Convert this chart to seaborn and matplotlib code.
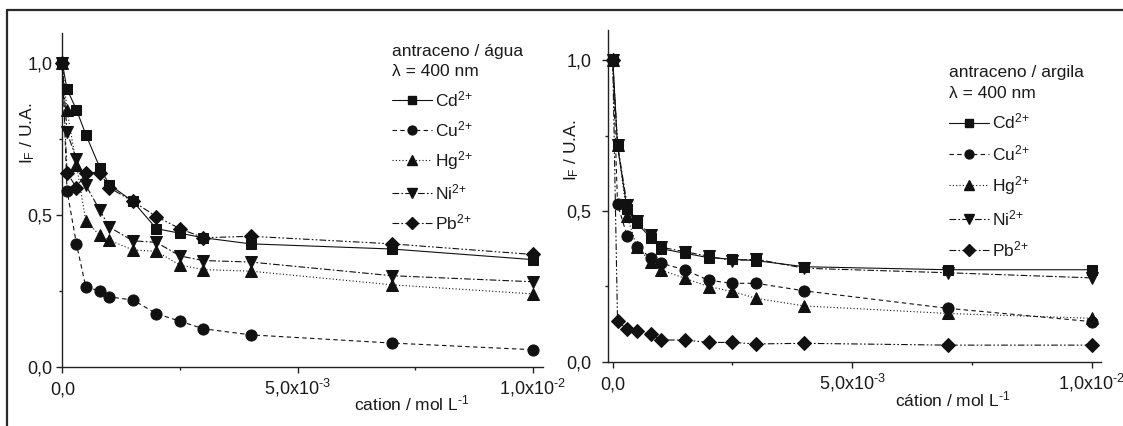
import matplotlib
matplotlib.use("Agg")
import matplotlib.pyplot as plt
from matplotlib.lines import Line2D
from matplotlib.ticker import FixedLocator
import seaborn as sns
import pandas as pd

# ---------------- data ----------------
conc = [0.0, 0.1e-3, 0.3e-3, 0.5e-3, 0.8e-3, 1.0e-3, 1.5e-3, 2.0e-3, 2.5e-3,
        3.0e-3, 4.0e-3, 7.0e-3, 10.0e-3]

cd_agua = [1.0, 0.915, 0.847, 0.765, 0.655, 0.60, 0.545, 0.455, 0.44, 0.425, 0.405, 0.388, 0.353]
cu_agua = [1.0, 0.58, 0.405, 0.262, 0.25, 0.23, 0.22, 0.175, 0.15, 0.125, 0.105, 0.078, 0.056]
hg_agua = [1.0, 0.845, 0.665, 0.48, 0.433, 0.417, 0.385, 0.38, 0.335, 0.32, 0.315, 0.27, 0.24]
ni_agua = [1.0, 0.773, 0.685, 0.598, 0.515, 0.46, 0.415, 0.41, 0.365, 0.35, 0.345, 0.30, 0.28]
pb_agua = [1.0, 0.64, 0.59, 0.64, 0.64, 0.59, 0.545, 0.495, 0.455, 0.425, 0.43, 0.405, 0.37]

cd_argila = [1.0, 0.715, 0.505, 0.46, 0.41, 0.375, 0.36, 0.345, 0.34, 0.335, 0.315, 0.305, 0.305]
cu_argila = [1.0, 0.523, 0.417, 0.38, 0.345, 0.327, 0.305, 0.27, 0.26, 0.26, 0.235, 0.177, 0.133]
hg_argila = [1.0, 0.72, 0.482, 0.382, 0.33, 0.305, 0.277, 0.249, 0.233, 0.21, 0.185, 0.16, 0.144]
ni_argila = [1.0, 0.72, 0.52, 0.465, 0.42, 0.38, 0.365, 0.35, 0.335, 0.34, 0.31, 0.295, 0.278]
pb_argila = [1.0, 0.135, 0.107, 0.102, 0.091, 0.072, 0.072, 0.064, 0.064, 0.059, 0.061, 0.055, 0.055]

series_labels = [r"Cd$^{\text{2+}}$", r"Cu$^{\text{2+}}$", r"Hg$^{\text{2+}}$", r"Ni$^{\text{2+}}$", r"Pb$^{\text{2+}}$"]
x_ticks = [0.0, 5.0e-3, 10.0e-3]
x_ticklabels = ["0,0", r"5,0x10$^{\text{-}3}$", r"1,0x10$^{\text{-}2}$"]
x_minor = [2.5e-3, 7.5e-3]
y_ticks = [0.0, 0.5, 1.0]
y_ticklabels = ["0,0", "0,5", "1,0"]
y_minor = [0.25, 0.75]
titles = ["antraceno / água", "antraceno / argila"]
xlabels = [r"cation / mol L$^{\text{-}1}$", r"cátion / mol L$^{\text{-}1}$"]
ylabel = r"I$_{F}$ / U.A."

# ---------------- style ----------------
sns.set_style("ticks")
plt.rcParams["font.family"] = ["Liberation Sans", "DejaVu Sans"]
plt.rcParams["mathtext.fontset"] = "custom"
plt.rcParams["mathtext.rm"] = "Liberation Sans"
plt.rcParams["mathtext.it"] = "Liberation Sans:italic"
plt.rcParams["mathtext.default"] = "regular"
plt.rcParams["text.color"] = "#1a1a1a"
plt.rcParams["axes.labelcolor"] = "#1a1a1a"

markers = ["s", "o", "^", "v", "D"]
msizes = [7, 8, 8.5, 8.5, 7.5]
styles = ["-", (0, (4, 3)), (0, (1, 2)), (0, (6, 2, 1.5, 2)), (0, (6, 2, 1.5, 2, 1.5, 2))]

fig = plt.figure(figsize=(11.23, 4.26), dpi=100)
ax1 = fig.add_axes([0.0555, 0.1392, 0.4278, 0.7833])
ax2 = fig.add_axes([0.5417, 0.1509, 0.4384, 0.7787])

panels = [
    (ax1, [cd_agua, cu_agua, hg_agua, ni_agua, pb_agua], (0.0, 1.021e-2), 0.70, (0.727, -0.11), 3.2, (0.686, 0.968), 0.0714, 0.58),
    (ax2, [cd_argila, cu_argila, hg_argila, ni_argila, pb_argila], (-0.092e-3, 1.0188e-2), 0.638, (0.70, -0.115), 8.0, (0.692, 0.893), 0.074, 0.64),
]

for i, (ax, data, xlim, ylab_y, xlab_pos, ypad, leg_pos, ylab_x, lspace) in enumerate(panels):
    handles = []
    for j, yv in enumerate(data):
        df = pd.DataFrame({"x": conc, "y": yv})
        sns.lineplot(data=df, x="x", y="y", ax=ax, color="#111111", marker=markers[j],
                     markersize=msizes[j], markeredgecolor="#111111", markerfacecolor="#111111",
                     linestyle=styles[j], linewidth=0.8, sort=False, estimator=None,
                     clip_on=False, zorder=3 + j)
        handles.append(Line2D([], [], color="#111111", marker=markers[j], markersize=msizes[j] * 0.8,
                              linestyle=styles[j], linewidth=0.8))
    ax.set_xlim(*xlim)
    ax.set_ylim(0, 1.1)
    sns.despine(ax=ax)
    for side in ["left", "bottom"]:
        ax.spines[side].set_linewidth(1.0)
        ax.spines[side].set_color("#222222")
    ax.set_xticks(x_ticks)
    ax.set_xticklabels(x_ticklabels)
    ax.set_yticks(y_ticks)
    ax.set_yticklabels(y_ticklabels)
    ax.xaxis.set_minor_locator(FixedLocator(x_minor))
    ax.yaxis.set_minor_locator(FixedLocator(y_minor))
    ax.tick_params(axis="both", which="major", direction="out", length=4, width=1.0,
                   labelsize=13, colors="#222222", labelcolor="#1a1a1a")
    ax.tick_params(axis="both", which="minor", direction="out", length=2.5, width=1.0, colors="#222222")
    ax.tick_params(axis="y", which="major", pad=ypad)
    ax.tick_params(axis="x", which="major", pad=16)
    for t in ax.get_xticklabels():
        t.set_verticalalignment("baseline")
    ax.set_xlabel(xlabels[i], fontsize=12.5)
    ax.xaxis.set_label_coords(*xlab_pos)
    ax.xaxis.label.set_verticalalignment("center")
    ax.set_ylabel(ylabel, fontsize=12.5)
    ax.yaxis.set_label_coords(-ylab_x, ylab_y)
    ax.yaxis.label.set_verticalalignment("center")

    leg = ax.legend(handles, series_labels, title=titles[i] + "\n" + r"λ = 400 nm",
                    loc="upper left", bbox_to_anchor=leg_pos, frameon=False, fontsize=12.5,
                    title_fontsize=12.5, alignment="left", borderpad=0, borderaxespad=0,
                    handlelength=2.3, handletextpad=0.2, labelspacing=lspace)
    leg.get_title().set_linespacing(1.45)

# figure frame (top and left lines)
fig.add_artist(Line2D([7 / 1123, 1.0], [1 - 10 / 426, 1 - 10 / 426], transform=fig.transFigure,
                      color="#2a2a2a", linewidth=1.6))
fig.add_artist(Line2D([7 / 1123, 7 / 1123], [0.0, 1 - 10 / 426], transform=fig.transFigure,
                      color="#2a2a2a", linewidth=1.6))

fig.savefig("out.png", dpi=100)
